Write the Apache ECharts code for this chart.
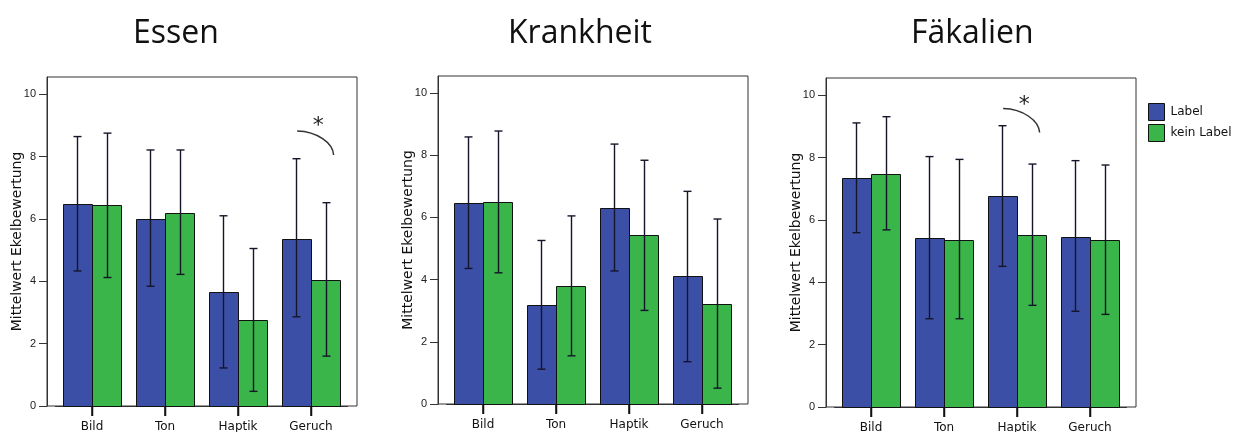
<!DOCTYPE html>
<html><head><meta charset="utf-8">
<script src="https://cdn.jsdelivr.net/npm/echarts@6/dist/echarts.min.js"></script>
<style>html,body{margin:0;padding:0;background:#fff}#c{width:1246px;height:432px}</style>
</head><body><div id="c"></div>
<script>
// ---------- data ----------
const categories = ['Bild', 'Ton', 'Haptik', 'Geruch'];
const panelTitles = ['Essen', 'Krankheit', 'Fäkalien'];
const groupNames = ['Label', 'kein Label'];
const yTicks = [0, 2, 4, 6, 8, 10];
const yAxisName = 'Mittelwert Ekelbewertung';

// Essen
const essenLabelMean = [6.48, 6.01, 3.66, 5.37];
const essenLabelLow  = [4.33, 3.84, 1.22, 2.86];
const essenLabelHigh = [8.64, 8.21, 6.10, 7.93];
const essenKeinMean  = [6.43, 6.20, 2.77, 4.04];
const essenKeinLow   = [4.12, 4.22, 0.47, 1.60];
const essenKeinHigh  = [8.75, 8.21, 5.05, 6.52];
// Krankheit
const krankLabelMean = [6.47, 3.19, 6.30, 4.12];
const krankLabelLow  = [4.36, 1.12, 4.28, 1.36];
const krankLabelHigh = [8.59, 5.26, 8.36, 6.84];
const krankKeinMean  = [6.51, 3.80, 5.44, 3.23];
const krankKeinLow   = [4.22, 1.55, 3.01, 0.51];
const krankKeinHigh  = [8.78, 6.05, 7.84, 5.95];
// Fäkalien
const faekLabelMean = [7.34, 5.41, 6.78, 5.46];
const faekLabelLow  = [5.59, 2.83, 4.51, 3.07];
const faekLabelHigh = [9.11, 8.03, 9.02, 7.90];
const faekKeinMean  = [7.47, 5.36, 5.51, 5.36];
const faekKeinLow   = [5.68, 2.83, 3.26, 2.97];
const faekKeinHigh  = [9.31, 7.94, 7.79, 7.76];

// significance annotations (arc + asterisk), in data units
const sigPanel    = [0, 2];
const sigCategory = [3, 2];
const sigArcStart = [8.82, 9.57];
const sigArcEnd   = [8.05, 8.80];
const sigStar     = [9.12, 9.85];

// ---------- layout / style ----------
const panels = [
  { left: 47,  top: 77, height: 329, titleLeft: 133,
    groups: [[essenLabelMean, essenLabelLow, essenLabelHigh], [essenKeinMean, essenKeinLow, essenKeinHigh]] },
  { left: 438, top: 76, height: 328, titleLeft: 508,
    groups: [[krankLabelMean, krankLabelLow, krankLabelHigh], [krankKeinMean, krankKeinLow, krankKeinHigh]] },
  { left: 826, top: 78, height: 329, titleLeft: 911,
    groups: [[faekLabelMean, faekLabelLow, faekLabelHigh], [faekKeinMean, faekKeinLow, faekKeinHigh]] }
];
const BOX_W = 310, INSET = 8.5, DATA_W = 292, Y_MAX = 10.55;
const colors = ['#3c4fa7', '#3ab54a'];
const BAR_FRAC = 0.4;
const TICK_LEN = 10;
const catIdx = categories.map((c, k) => k);

const grid = [], xAxis = [], yAxis = [], series = [], title = [];

panels.forEach((p, i) => {
  const fi = 2 * i, di = 2 * i + 1;
  grid.push({ left: p.left, top: p.top, width: BOX_W, height: p.height, show: true, outerBoundsMode: 'none',
              containLabel: false, borderColor: '#333', borderWidth: 1, backgroundColor: 'transparent' });
  grid.push({ left: p.left + INSET, top: p.top, width: DATA_W, height: p.height, outerBoundsMode: 'none',
              containLabel: false });
  xAxis.push({ gridIndex: fi, type: 'value', min: 0, max: 1, show: false });
  xAxis.push({ gridIndex: di, type: 'value', min: -0.5, max: categories.length - 0.5, position: 'bottom',
    splitLine: { show: false },
    axisLine: { show: true, lineStyle: { color: '#333', width: 1 } },
    axisTick: { show: true, inside: false, length: TICK_LEN, customValues: catIdx,
                lineStyle: { color: '#111', width: 1.5 } },
    axisLabel: { customValues: catIdx, formatter: v => categories[Math.round(v)] || '',
                 margin: 15, fontFamily: 'DejaVu Sans', fontSize: 12, color: '#111' } });
  yAxis.push({ gridIndex: fi, type: 'value', min: 0, max: Y_MAX,
    axisLine: { show: true, lineStyle: { color: '#333', width: 1 } },
    axisTick: { show: true, length: 8, customValues: yTicks, lineStyle: { color: '#333' } },
    axisLabel: { customValues: yTicks, margin: 11, fontFamily: 'Liberation Sans', fontSize: 11, color: '#222' },
    splitLine: { show: false },
    name: yAxisName, nameLocation: 'middle', nameGap: 23, nameMoveOverlap: false,
    nameTextStyle: { fontFamily: 'DejaVu Sans', fontSize: 14, color: '#111' } });
  yAxis.push({ gridIndex: di, type: 'value', min: 0, max: Y_MAX, show: false });

  title.push({ text: panelTitles[i], left: p.titleLeft, top: 18, padding: 0,
    textStyle: { fontFamily: 'Open Sans', fontSize: 32, fontWeight: 'normal', color: '#111' } });

  p.groups.forEach((g, gi) => {
    series.push({ type: 'custom', name: groupNames[gi], xAxisIndex: di, yAxisIndex: di, silent: true, z: 2,
      clip: false,
      data: catIdx.map(k => [k, g[0][k], gi]), encode: { x: 0, y: 1 },
      itemStyle: { color: colors[gi], borderColor: '#111', borderWidth: 1 },
      renderItem: (params, api) => {
        const k = api.value(0);
        const top = api.coord([k, api.value(1)]);
        const base = api.coord([k, 0]);
        const bw = api.size([1, 0])[0] * BAR_FRAC;
        const x0 = api.value(2) === 0 ? top[0] - bw : top[0];
        return { type: 'rect', shape: { x: Math.round(x0) + 0.5, y: Math.round(top[1]) + 0.5,
                   width: Math.round(bw), height: Math.round(base[1]) - Math.round(top[1]) },
                 style: { fill: colors[api.value(2)], stroke: '#111', lineWidth: 1 } };
      } });
  });
  // category ticks below the baseline
  series.push({ type: 'custom', name: 'ticks' + i, xAxisIndex: di, yAxisIndex: di, silent: true, z: 20,
    clip: false, data: catIdx.map(k => [k, 0]), encode: { x: 0, y: 1 },
    renderItem: (params, api) => {
      const b = api.coord([api.value(0), 0]);
      const cx = Math.round(b[0]) + 0.5;
      return { type: 'rect', shape: { x: cx - 0.75, y: Math.round(b[1]), width: 1.5, height: TICK_LEN },
               style: { fill: '#111' } };
    } });
  p.groups.forEach((g, gi) => {
    series.push({ type: 'custom', name: 'err' + i + gi, xAxisIndex: di, yAxisIndex: di, silent: true, z: 5,
      data: catIdx.map(k => [k, g[1][k], g[2][k], gi]),
      encode: { x: 0, y: [1, 2] },
      renderItem: (params, api) => {
        const k = api.value(0);
        const lo = api.coord([k, api.value(1)]);
        const hi = api.coord([k, api.value(2)]);
        const bw = api.size([1, 0])[0];
        const off = (api.value(3) === 0 ? -1 : 1) * bw * BAR_FRAC / 2;
        const x = Math.round(lo[0] + off) + 0.5;
        const st = { stroke: '#15152a', lineWidth: 1.4 };
        return { type: 'group', children: [
          { type: 'line', shape: { x1: x, y1: lo[1], x2: x, y2: hi[1] }, style: st },
          { type: 'line', shape: { x1: x - 4, y1: lo[1], x2: x + 4, y2: lo[1] }, style: st },
          { type: 'line', shape: { x1: x - 4, y1: hi[1], x2: x + 4, y2: hi[1] }, style: st }
        ] };
      } });
  });
  const sigData = [];
  sigPanel.forEach((sp, s) => { if (sp === i) sigData.push([sigCategory[s], sigArcStart[s], sigArcEnd[s], sigStar[s]]); });
  if (sigData.length) {
    series.push({ type: 'custom', name: 'sig' + i, xAxisIndex: di, yAxisIndex: di, silent: true, z: 6,
      data: sigData, encode: { x: 0, y: [1, 2, 3] },
      renderItem: (params, api) => {
        const k = api.value(0);
        const bw = api.size([1, 0])[0];
        const a = api.coord([k, api.value(1)]);
        const b = api.coord([k, api.value(2)]);
        const s = api.coord([k, api.value(3)]);
        const x0 = a[0] - 0.19 * bw, y0 = a[1];
        const x2 = b[0] + 0.31 * bw, y2 = b[1];
        const dx = x2 - x0, dy = y2 - y0;
        return { type: 'group', children: [
          { type: 'bezierCurve', shape: { x1: x0, y1: y0, x2: x2, y2: y2,
              cpx1: x0 + 0.55 * dx, cpy1: y0 + 0.02 * dy, cpx2: x2 - 0.02 * dx, cpy2: y2 - 0.5 * dy },
            style: { stroke: '#333', lineWidth: 1.5, fill: null } },
          { type: 'text', x: s[0] + 0.1 * bw, y: s[1] + 5,
            style: { text: '*', font: '22px "DejaVu Sans"', fill: '#222', align: 'center', verticalAlign: 'middle' } }
        ] };
      } });
  }
});

const chart = echarts.init(document.getElementById('c'), null, { renderer: 'canvas' });
chart.setOption({
  animation: false,
  backgroundColor: '#fff',
  title, grid, xAxis, yAxis, series,
  legend: { orient: 'vertical', left: 1148, top: 103, padding: 0, itemWidth: 16, itemHeight: 17, itemGap: 3,
    icon: 'rect', data: groupNames, selectedMode: false,
    itemStyle: { borderColor: '#111', borderWidth: 1 },
    textStyle: { fontFamily: 'DejaVu Sans', fontSize: 12, color: '#111', padding: [0, 0, 0, 1] } },
  tooltip: { show: false }
});
</script></body></html>
